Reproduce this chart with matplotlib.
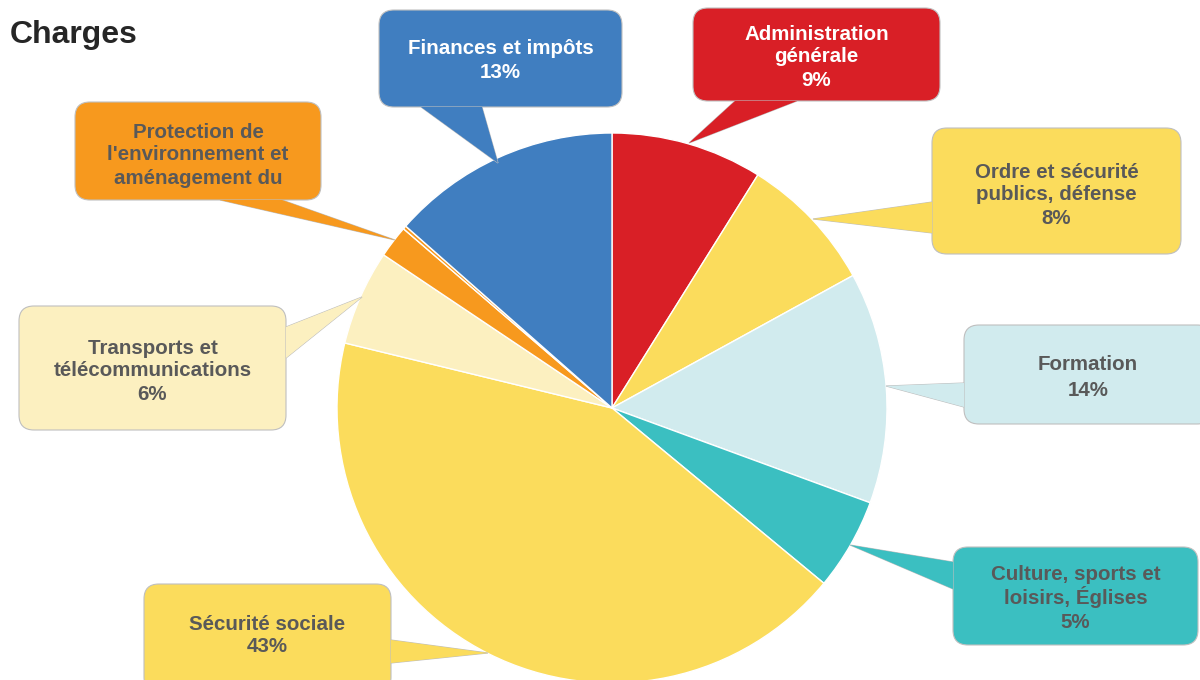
import matplotlib
matplotlib.use("Agg")
import matplotlib.pyplot as plt
from matplotlib.patches import FancyBboxPatch, Polygon

plt.rcParams["font.family"] = ["Liberation Sans", "DejaVu Sans"]

# data, clockwise from 12 o'clock
categories = [
    "Administration générale",
    "Ordre et sécurité publics, défense",
    "Formation",
    "Culture, sports et loisirs, Églises",
    "Sécurité sociale",
    "Transports et télécommunications",
    "Protection de l'environnement et aménagement du territoire",
    "Économie publique",
    "Finances et impôts",
]
shares = [8.9, 8.1, 13.6, 5.4, 42.8, 5.6, 1.9, 0.2, 13.5]
slice_colors = ["#D91F26", "#FBDC5C", "#D1EBEE", "#3BBFC1", "#FBDC5C",
                "#FCF0C0", "#F7991E", "#F7991E", "#407EC0"]

# callout texts (as shown on the chart)
callout_lines = {
    "Finances et impôts": ["Finances et impôts", "13%"],
    "Administration générale": ["Administration", "générale", "9%"],
    "Ordre et sécurité publics, défense": ["Ordre et sécurité", "publics, défense", "8%"],
    "Formation": ["Formation", "14%"],
    "Culture, sports et loisirs, Églises": ["Culture, sports et", "loisirs, Églises", "5%"],
    "Sécurité sociale": ["Sécurité sociale", "43%"],
    "Transports et télécommunications": ["Transports et", "télécommunications", "6%"],
    "Protection de l'environnement et aménagement du territoire":
        ["Protection de", "l'environnement et", "aménagement du"],
}

W, H = 1200, 680


def Y(y):
    return H - y


fig = plt.figure(figsize=(12, 6.8), dpi=100)
ax = fig.add_axes([0, 0, 1, 1])

ax.pie(shares, colors=slice_colors, startangle=90, counterclock=False,
       center=(612, Y(408)), radius=275,
       wedgeprops=dict(edgecolor="white", linewidth=1.0))
ax.set_xlim(0, W)
ax.set_ylim(0, H)
ax.set_aspect("equal")
ax.set_axis_off()

# callout layout in pixel coords (y down): box, tail base pts, tip, text line centres
layout = {
    "Finances et impôts": dict(box=(379, 10, 622, 107), base=[(421, 107), (482, 107)],
                               tip=(498, 163), ys=[47, 71], tc="white"),
    "Administration générale": dict(box=(693, 8, 940, 101), base=[(735, 101), (797, 101)],
                                    tip=(689, 143), ys=[32, 55, 79], tc="white"),
    "Ordre et sécurité publics, défense": dict(box=(932, 128, 1181, 254),
                                               base=[(932, 202), (932, 233)],
                                               tip=(813, 219), ys=[170, 192, 216], tc="#595959"),
    "Formation": dict(box=(964, 325, 1212, 424), base=[(964, 383), (964, 407)],
                      tip=(886, 386), ys=[363, 388], tc="#595959"),
    "Culture, sports et loisirs, Églises": dict(box=(953, 547, 1198, 645),
                                                base=[(953, 562), (953, 589)],
                                                tip=(850, 545), ys=[573, 597, 621], tc="#595959"),
    "Sécurité sociale": dict(box=(144, 584, 391, 692), base=[(391, 640), (391, 663)],
                             tip=(488, 653), ys=[622, 645], tc="#595959"),
    "Transports et télécommunications": dict(box=(19, 306, 286, 430),
                                             base=[(286, 327), (286, 358)],
                                             tip=(362, 297), ys=[347, 369, 393], tc="#595959"),
    "Protection de l'environnement et aménagement du territoire":
        dict(box=(75, 102, 321, 200), base=[(220, 200), (282, 200)],
             tip=(395, 240), ys=[130, 153, 176], tc="#595959"),
}

edge = "#BFBFBF"
for name, color in zip(categories, slice_colors):
    if name not in layout:
        continue
    L = layout[name]
    x0, y0, x1, y1 = L["box"]
    tri = [(L["base"][0][0], Y(L["base"][0][1])),
           (L["tip"][0], Y(L["tip"][1])),
           (L["base"][1][0], Y(L["base"][1][1]))]
    ax.add_patch(Polygon(tri, closed=True, facecolor=color, edgecolor=edge,
                         linewidth=0.8, zorder=3))
    ax.add_patch(FancyBboxPatch((x0, Y(y1)), x1 - x0, y1 - y0,
                                boxstyle="round,pad=0,rounding_size=15",
                                facecolor=color, edgecolor=edge, linewidth=0.8,
                                zorder=4))
    ax.add_patch(Polygon(tri, closed=True, facecolor=color, edgecolor="none",
                         zorder=5))
    cx = (x0 + x1) / 2
    for line, ty in zip(callout_lines[name], L["ys"]):
        ax.text(cx, Y(ty + 7.5), line, ha="center", va="baseline", fontsize=14.8,
                fontweight="bold", color=L["tc"], zorder=6)

ax.text(10, Y(43), "Charges", ha="left", va="baseline", fontsize=23,
        fontweight="bold", color="#262626")

fig.savefig("out.png", dpi=100)
